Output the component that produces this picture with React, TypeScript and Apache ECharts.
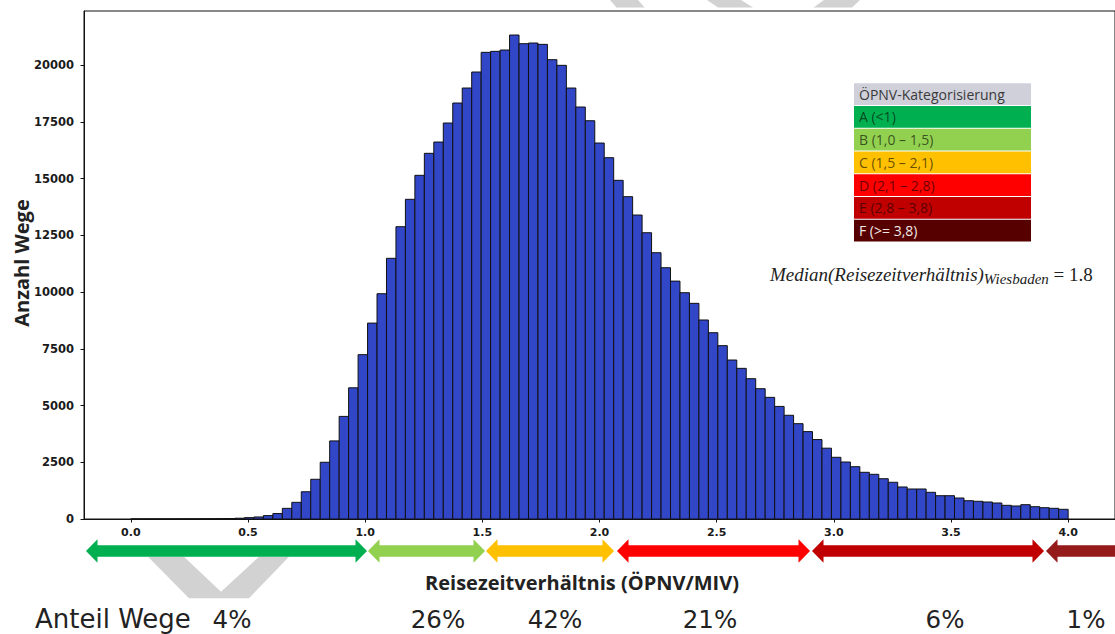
import React, { useEffect, useRef } from "react";
import * as echarts from "echarts";

// ---- data ----
const binStart = 0;
const binEnd = 4;
const counts = [
  2, 2, 3, 3, 4, 5, 6, 8, 12, 16,
  22, 35, 60, 90, 150, 240, 470, 735, 1200, 1750,
  2500, 3440, 4520, 5780, 7240, 8630, 9925, 11485, 12877, 14084,
  15141, 16110, 16608, 17445, 18326, 18987, 19692, 20559, 20602, 20661,
  21322, 20940, 20969, 20911, 20235, 19986, 18987, 18150, 17546, 16564,
  15917, 14920, 14199, 13392, 12612, 11731, 11070, 10480, 9969, 9501,
  8767, 8207, 7636, 7004, 6637, 6181, 5740, 5359, 4960, 4570,
  4200, 3850, 3500, 3120, 2718, 2511, 2304, 2057, 1969, 1775,
  1617, 1410, 1322, 1322, 1176, 1026, 1026, 925, 806, 780,
  749, 705, 603, 573, 630, 542, 498, 471, 427,
];
const xTickValues = [0, 0.5, 1, 1.5, 2, 2.5, 3, 3.5, 4];
const yTickValues = [0, 2500, 5000, 7500, 10000, 12500, 15000, 17500, 20000];
const yAxisTitle = "Anzahl Wege";
const xAxisTitle = "Reisezeitverhältnis (ÖPNV/MIV)";
const legendTitle = "ÖPNV-Kategorisierung";
const categoryLabels = ["A (<1)", "B (1,0 – 1,5)", "C (1,5 – 2,1)", "D (2,1 – 2,8)", "E (2,8 – 3,8)", "F (>= 3,8)"];
const shareTitle = "Anteil Wege";
const shareLabels = ["4%", "26%", "42%", "21%", "6%", "1%"];
const medianName = "Median(Reisezeitverhältnis)";
const medianSub = "Wiesbaden";
const medianValue = "1.8";

// ---- styles / layout ----
const catColors = ["#00B050", "#92D050", "#FFC000", "#FF0000", "#C00000", "#560000"];
const catTextColors = ["rgba(0,0,0,0.62)", "rgba(0,0,0,0.62)", "rgba(0,0,0,0.62)", "rgba(80,0,0,0.85)", "rgba(70,0,0,0.85)", "#f3e8e8"];
const arrowColors = ["#00B050", "#92D050", "#FFC000", "#FF0000", "#C00000", "#951A1A"];
const arrowSpans: [number, number][] = [[86, 367], [368, 485], [486, 614], [617, 810], [812, 1044], [1046, 1130]];
const shareX = [232, 438, 555, 710, 945, 1086];
const SANS = "'Open Sans', Lato, sans-serif";
const TICKFONT = "'DejaVu Sans', sans-serif";
const ROWFONT = "'DejaVu Sans', sans-serif";

function arrowPoints(x1: number, x2: number, cy: number) {
  const L = 11.5, H = 11.7, B = 5.8;
  return [
    [x1, cy], [x1 + L, cy - H], [x1 + L, cy - B], [x2 - L, cy - B], [x2 - L, cy - H],
    [x2, cy], [x2 - L, cy + H], [x2 - L, cy + B], [x1 + L, cy + B], [x1 + L, cy + H],
  ];
}

export default function App() {
  const ref = useRef<HTMLDivElement>(null);
  useEffect(() => {
    if (!ref.current) return;
    const chart = echarts.init(ref.current, null, { renderer: "svg" });
    const w = (binEnd - binStart) / counts.length;
    const data = counts.map((c, i) => [binStart + i * w, binStart + (i + 1) * w, c]);

    const graphics: any[] = [];
    // watermark pieces
    const wm = "#D2D2D2";
    graphics.push({ type: "polygon", z: 0, shape: { points: [[148, 556.7], [184, 556.7], [221, 591.7], [259, 556.7], [289, 556.7], [249, 598.3], [189, 598.3]] }, style: { fill: wm } });
    graphics.push({ type: "polygon", z: 0, shape: { points: [[610, 0], [638, 0], [644.5, 7.4], [616.5, 7.4]] }, style: { fill: wm } });
    graphics.push({ type: "polygon", z: 0, shape: { points: [[707, 0], [741, 0], [753, 7.4], [718, 7.4]] }, style: { fill: wm } });
    graphics.push({ type: "polygon", z: 0, shape: { points: [[824, 0], [860, 0], [852, 7.4], [813.5, 7.4]] }, style: { fill: wm } });

    // arrows
    arrowSpans.forEach((s, i) => {
      graphics.push({ type: "polygon", z: 5, shape: { points: arrowPoints(s[0], s[1], 551) }, style: { fill: arrowColors[i] } });
    });

    // legend table
    const tx = 854, tw = 177, pitch = 22.73, rh = 21.7, ty = 83.3;
    graphics.push({ type: "rect", z: 5, shape: { x: tx, y: ty, width: tw, height: rh }, style: { fill: "#D0D0DB" } });
    graphics.push({ type: "text", z: 6, x: tx + 5, y: ty + rh / 2, style: { text: legendTitle, fill: "#3a3a3a", font: `400 14px ${SANS}`, verticalAlign: "middle", align: "left" } });
    categoryLabels.forEach((lab, i) => {
      const y = ty + pitch * (i + 1);
      graphics.push({ type: "rect", z: 5, shape: { x: tx, y, width: tw, height: rh }, style: { fill: catColors[i] } });
      graphics.push({ type: "text", z: 6, x: tx + 5, y: y + rh / 2, style: { text: lab, fill: catTextColors[i], font: `400 14px ${SANS}`, verticalAlign: "middle", align: "left" } });
    });

    // median annotation
    graphics.push({
      type: "text", z: 6, x: 770, y: 274,
      style: {
        text: `{m|${medianName}}{s|${medianSub}}{n| = ${medianValue}}`,
        verticalAlign: "middle", align: "left",
        rich: {
          m: { fontFamily: "'Liberation Serif', serif", fontStyle: "italic", fontSize: 19, fill: "#222", lineHeight: 24, verticalAlign: "middle" },
          s: { fontFamily: "'Liberation Serif', serif", fontStyle: "italic", fontSize: 15, fill: "#222", lineHeight: 24, verticalAlign: "bottom" },
          n: { fontFamily: "'Liberation Serif', serif", fontSize: 19, fill: "#222", lineHeight: 24, verticalAlign: "middle" },
        },
      },
    });

    // axis titles
    graphics.push({ type: "text", z: 6, x: 21, y: 263, rotation: Math.PI / 2, style: { text: yAxisTitle, fill: "#222", font: `700 20px ${SANS}`, align: "center", verticalAlign: "middle" } });
    graphics.push({ type: "text", z: 6, x: 582, y: 582, style: { text: xAxisTitle, fill: "#222", font: `700 20px ${SANS}`, align: "center", verticalAlign: "middle" } });

    // share row
    graphics.push({ type: "text", z: 6, x: 35, y: 619, style: { text: shareTitle, fill: "#222", font: `400 26px ${ROWFONT}`, lineHeight: 26, align: "left", verticalAlign: "middle" } });
    shareLabels.forEach((t, i) => {
      graphics.push({ type: "text", z: 6, x: shareX[i], y: 619, style: { text: t, fill: "#222", font: `400 24.5px ${ROWFONT}`, lineHeight: 26, align: "center", verticalAlign: "middle" } });
    });

    chart.setOption({
      animation: false,
      backgroundColor: "#fff",
      grid: { left: 84, top: 11, width: 1034, height: 508, show: true, borderColor: "#111", borderWidth: 1, backgroundColor: "#fff" },
      xAxis: {
        type: "value", min: -0.2, max: 4.2,
        splitLine: { show: false },
        axisLine: { show: true, onZero: false, lineStyle: { color: "#111", width: 1 } },
        axisTick: { show: true, customValues: xTickValues, length: 3.5, lineStyle: { color: "#111" } },
        axisLabel: { customValues: xTickValues, formatter: (v: number) => v.toFixed(1), fontFamily: TICKFONT, fontWeight: 700, fontSize: 11, color: "#1a1a1a", margin: 8 },
      },
      yAxis: {
        type: "value", min: 0, max: 22380,
        splitLine: { show: false },
        axisLine: { show: true, onZero: false, lineStyle: { color: "#111", width: 1 } },
        axisTick: { show: true, customValues: yTickValues, length: 3.5, lineStyle: { color: "#111" } },
        axisLabel: { customValues: yTickValues, formatter: (v: number) => String(Math.round(v)), fontFamily: TICKFONT, fontWeight: 700, fontSize: 11.5, color: "#1a1a1a", margin: 10 },
      },
      series: [{
        type: "custom",
        data,
        encode: { x: [0, 1], y: 2 },
        renderItem: (params: any, api: any) => {
          const p0 = api.coord([api.value(0), api.value(2)]);
          const p1 = api.coord([api.value(1), 0]);
          return {
            type: "rect",
            shape: { x: p0[0], y: p0[1], width: p1[0] - p0[0], height: p1[1] - p0[1] },
            style: { fill: "#3246C8", stroke: "#111", lineWidth: 1 },
          };
        },
      }],
      graphic: graphics,
    });
    return () => chart.dispose();
  }, []);
  return <div ref={ref} style={{ position: "absolute", left: 0, top: 0, width: 1115, height: 634 }} />;
}
